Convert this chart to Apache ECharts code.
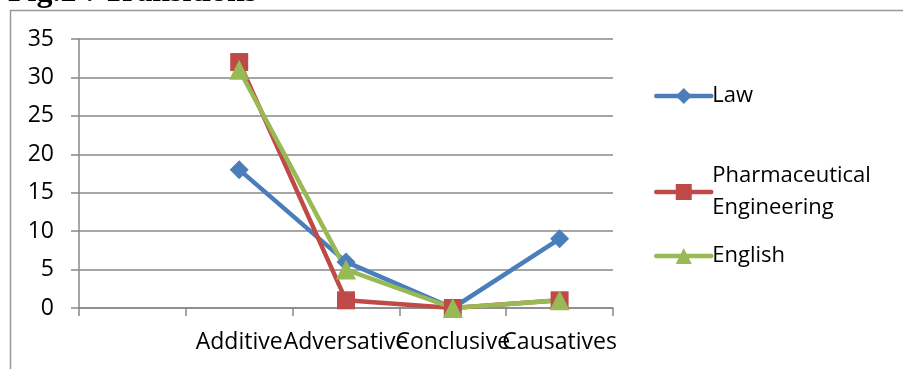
<!DOCTYPE html>
<html>
<head>
<meta charset="utf-8">
<script src="https://cdn.jsdelivr.net/npm/echarts@6/dist/echarts.min.js"></script>
<style>html,body{margin:0;padding:0;background:#fff}#c{width:903px;height:369px}</style>
</head>
<body>
<div id="c"></div>
<script>
const categories = ['', 'Additive', 'Adversative', 'Conclusive', 'Causatives'];
const law = [null, 18, 6, 0, 9];
const pharm = [null, 32, 1, 0, 1];
const english = [null, 31, 5, 0, 1];
const yTicks = { min: 0, max: 35, interval: 5 };

const FONT = '"Open Sans", sans-serif';
const chart = echarts.init(document.getElementById('c'), null, { renderer: 'canvas' });
const legendBase = {
  orient: 'vertical', left: 649, itemWidth: 55, itemHeight: 20, itemGap: 0,
  textStyle: { fontFamily: FONT, fontSize: 22, color: '#000', lineHeight: 32, padding: [0,0,0,-4] },
  lineStyle: { width: 4.5, cap: 'round' },
  formatter: n => n.replace(' ', '\n'),
  selectedMode: false
};
chart.setOption({
  animation: false,
  grid: { left: 79, right: 290, top: 39, bottom: 61, containLabel: false },
  graphic: [
    { type: 'rect', shape: { x: 10.5, y: 10.5, width: 1000, height: 1000 }, style: { fill: 'none', stroke: '#999', lineWidth: 1.5 } },
    { type: 'text', x: 8, y: -7, style: { text: 'Fig.2 : Transitions', font: 'bold 32px "Liberation Serif", serif', fill: '#000', verticalAlign: 'middle', align: 'left' } }
  ],
  legend: [
    Object.assign({}, legendBase, { data: ['Law'], top: 75 }),
    Object.assign({}, legendBase, { data: ['Pharmaceutical Engineering'], top: 155 }),
    Object.assign({}, legendBase, { data: ['English'], top: 235 })
  ],
  xAxis: {
    type: 'category', data: categories, boundaryGap: true,
    axisLine: { lineStyle: { color: '#888', width: 1.5 } },
    axisTick: { show: true, length: 8, interval: 0, lineStyle: { color: '#888', width: 1.5 } },
    axisLabel: { interval: 0, fontFamily: FONT, fontSize: 23, color: '#000', margin: 23, hideOverlap: false }
  },
  yAxis: {
    type: 'value', min: yTicks.min, max: yTicks.max, interval: yTicks.interval,
    axisLine: { show: true, lineStyle: { color: '#888', width: 1.5 } },
    axisTick: { show: true, length: 8, lineStyle: { color: '#888', width: 1.5 } },
    axisLabel: { fontFamily: FONT, fontSize: 23, color: '#000', margin: 25 },
    splitLine: { lineStyle: { color: '#888', width: 1.5 } }
  },
  series: [
    { name: 'Law', type: 'line', data: law, symbol: 'diamond', symbolSize: 19, connectNulls: false,
      itemStyle: { color: '#4A7EBB' }, lineStyle: { color: '#4A7EBB', width: 4.5 } },
    { name: 'Pharmaceutical Engineering', type: 'line', data: pharm, symbol: 'rect', symbolSize: 18,
      itemStyle: { color: '#BE4B48' }, lineStyle: { color: '#BE4B48', width: 4.5 } },
    { name: 'English', type: 'line', data: english, symbol: 'triangle', symbolSize: 20,
      itemStyle: { color: '#98B954' }, lineStyle: { color: '#98B954', width: 4.5 } }
  ]
});
</script>
</body>
</html>
